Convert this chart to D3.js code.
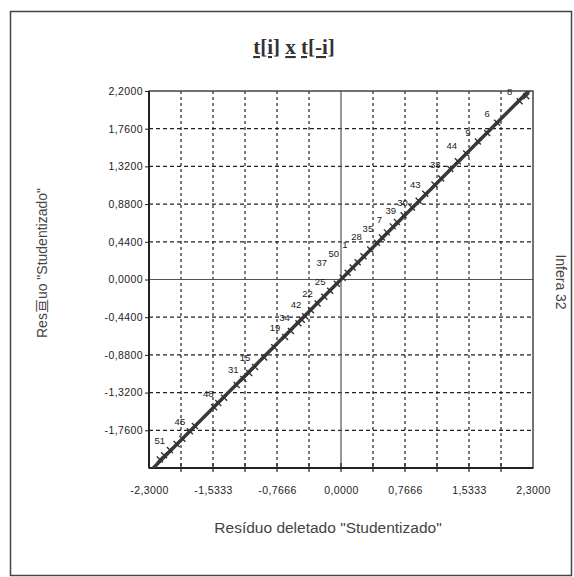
<!DOCTYPE html>
<html><head><meta charset="utf-8">
<script src="https://cdn.jsdelivr.net/npm/d3@7"></script>
<style>body{margin:0;background:#fff}svg{display:block}</style>
</head><body>
<script>
// ---- data ----
const labeledIds = [51,45,48,31,15,19,34,42,22,25,37,50,1,28,35,7,39,30,43,33,44,9,6,8];
const labeledX   = [-2.05,-1.81,-1.47,-1.17,-1.03,-0.67,-0.51,-0.43,-0.28,-0.13,0.08,0.14,0.20,0.35,0.43,0.49,0.62,0.67,1.01,1.31,1.40,1.64,1.87,2.14];
const labeledY   = [-1.99,-1.77,-1.44,-1.16,-1.02,-0.67,-0.51,-0.43,-0.28,-0.13,0.08,0.14,0.20,0.35,0.43,0.49,0.62,0.67,1.00,1.29,1.38,1.61,1.83,2.08];
const otherX = [-2.17,-2.12,-1.97,-1.90,-1.75,-1.52,-1.40,-1.25,-1.10,-0.92,-0.80,-0.60,-0.47,-0.36,-0.20,-0.05,0.02,0.27,0.55,0.75,0.85,0.93,1.12,1.20,1.50,1.75,2.22];
const otherY = [-2.10,-2.05,-1.92,-1.86,-1.71,-1.49,-1.38,-1.23,-1.09,-0.91,-0.79,-0.60,-0.47,-0.36,-0.20,-0.05,0.02,0.27,0.55,0.75,0.84,0.92,1.11,1.18,1.47,1.71,2.14];
const xTickVals = [-2.3,-1.5333,-0.7666,0,0.7666,1.5333,2.3];
const xTickLabels = ["-2,3000","-1,5333","-0,7666","0,0000","0,7666","1,5333","2,3000"];
const xGridVals = [-1.9167,-1.5333,-1.15,-0.7666,-0.3833,0.3833,0.7666,1.15,1.5333,1.9167];
const yTickVals = [2.2,1.76,1.32,0.88,0.44,0,-0.44,-0.88,-1.32,-1.76];
const yTickLabels = ["2,2000","1,7600","1,3200","0,8800","0,4400","0,0000","-0,4400","-0,8800","-1,3200","-1,7600"];
const yGridVals = [1.76,1.32,0.88,0.44,-0.44,-0.88,-1.32,-1.76];
const titleParts = ["t[i]","x","t[-i]"];
const xTitle = "Resíduo deletado \"Studentizado\"";
const yTitle = "Res亘uo \"Studentizado\"";
const sideText = "Infera 32";

// label placement (layout only, px offsets from each point)
const labelOffset = {37:[-26,-7],50:[-19,-10.5],1:[-12.7,-14],28:[-13.7,-9.5],35:[-9,-11],7:[-2.4,-14.5],
  39:[-2,-12],30:[5.5,-16],34:[-14,-2],42:[-9,-8],33:[-15,-1],44:[-6,-12]};

// ---- layout ----
const W = 574, H = 577;
const L = 149, R = 533, T = 91, B = 468;
const svg = d3.select("body").append("svg").attr("width", W).attr("height", H);
const x = d3.scaleLinear().domain([-2.3, 2.3]).range([L, R]);
const y = d3.scaleLinear().domain([-2.2, 2.2]).range([B, T]);

svg.append("rect").attr("x",10.5).attr("y",11.5).attr("width",561).attr("height",564)
  .attr("fill","#fff").attr("stroke","#444").attr("stroke-width",1.5);

// grid
const g = svg.append("g");
g.selectAll(".vg").data(xGridVals).join("line")
  .attr("x1",d=>x(d)).attr("x2",d=>x(d)).attr("y1",T).attr("y2",B)
  .attr("stroke","#222").attr("stroke-width",1.2).attr("stroke-dasharray","3,3");
g.selectAll(".hg").data(yGridVals).join("line")
  .attr("x1",L).attr("x2",R).attr("y1",d=>y(d)).attr("y2",d=>y(d))
  .attr("stroke","#222").attr("stroke-width",1.2).attr("stroke-dasharray","4,3");
g.append("line").attr("x1",x(0)).attr("x2",x(0)).attr("y1",T).attr("y2",B).attr("stroke","#555").attr("stroke-width",1.2);
g.append("line").attr("x1",L).attr("x2",R).attr("y1",y(0)).attr("y2",y(0)).attr("stroke","#555").attr("stroke-width",1.2);

// frame
svg.append("rect").attr("x",L).attr("y",T).attr("width",R-L).attr("height",B-T)
  .attr("fill","none").attr("stroke","#444").attr("stroke-width",1.5);
svg.append("line").attr("x1",L).attr("x2",L).attr("y1",T).attr("y2",B).attr("stroke","#222").attr("stroke-width",2);
svg.append("line").attr("x1",L).attr("x2",R).attr("y1",B).attr("y2",B).attr("stroke","#222").attr("stroke-width",2);

// axes
const xAxis = d3.axisBottom(x).tickValues(xTickVals).tickSize(0).tickFormat((d,i)=>xTickLabels[i]);
const xa = svg.append("g").attr("transform",`translate(0,${B})`).call(xAxis);
xa.select(".domain").remove();
xa.selectAll("text").attr("dy",0).attr("y",26).attr("font-family","Liberation Sans, Arial")
  .attr("font-size",10.5).attr("letter-spacing",0.4).attr("fill","#222");
svg.selectAll(".xt").data(xGridVals.concat([0])).join("line")
  .attr("x1",d=>x(d)).attr("x2",d=>x(d)).attr("y1",B-5).attr("y2",B+4).attr("stroke","#222").attr("stroke-width",1.2);

const yAxis = d3.axisLeft(y).tickValues(yTickVals).tickSize(4).tickFormat((d,i)=>yTickLabels[i]);
const ya = svg.append("g").attr("transform",`translate(${L},0)`).call(yAxis);
ya.select(".domain").remove();
ya.selectAll("line").attr("stroke","#222");
ya.selectAll("text").attr("x",-6).attr("font-family","Liberation Sans, Arial")
  .attr("font-size",10.5).attr("letter-spacing",0.4).attr("fill","#222");

// fit line (least squares through the points)
const allX = labeledX.concat(otherX), allY = labeledY.concat(otherY);
const mx = d3.mean(allX), my = d3.mean(allY);
const slope = d3.sum(allX.map((v,i)=>(v-mx)*(allY[i]-my))) / d3.sum(allX.map(v=>(v-mx)*(v-mx)));
const icpt = my - slope*mx;
svg.append("clipPath").attr("id","clip").append("rect").attr("x",L).attr("y",T).attr("width",R-L).attr("height",B-T);
svg.append("line").attr("clip-path","url(#clip)")
  .attr("x1",x(-2.3)).attr("y1",y(icpt+slope*-2.3)).attr("x2",x(2.3)).attr("y2",y(icpt+slope*2.3))
  .attr("stroke","#3a3a3a").attr("stroke-width",3.5);

// points
const pts = allX.map((v,i)=>({x:v,y:allY[i]}));
const pg = svg.append("g").attr("clip-path","url(#clip)");
pts.forEach(p=>{
  const cx = x(p.x), cy = y(p.y);
  pg.append("path").attr("d",`M${cx-3},${cy-3}L${cx+3},${cy+3}M${cx-3},${cy+3}L${cx+3},${cy-3}`)
    .attr("stroke","#333").attr("stroke-width",1.4);
});
// labels
svg.selectAll(".pl").data(labeledIds).join("text")
  .attr("x",(d,i)=>x(labeledX[i])+(labelOffset[d]?labelOffset[d][0]:-10))
  .attr("y",(d,i)=>y(labeledY[i])+(labelOffset[d]?labelOffset[d][1]:-6))
  .attr("text-anchor","middle").attr("font-family","Liberation Sans, Arial").attr("font-size",9.5).attr("fill","#222")
  .text(d=>d);

// title
const tt = svg.append("text").attr("x",294).attr("y",54).attr("text-anchor","middle")
  .attr("font-family","Liberation Serif, Times New Roman").attr("font-weight","bold").attr("font-size",21).attr("fill","#333");
titleParts.forEach((t,i)=>{
  if(i>0) tt.append("tspan").text(" ");
  tt.append("tspan").attr("text-decoration","underline").text(t);
});

// axis titles
svg.append("text").attr("x",328).attr("y",533).attr("text-anchor","middle")
  .attr("font-family","Liberation Sans, Arial").attr("font-size",15.5).attr("fill","#444").text(xTitle);
svg.append("text").attr("transform","translate(47,263) rotate(-90)").attr("text-anchor","middle")
  .attr("font-family","Liberation Sans, Noto Sans CJK SC, Arial").attr("font-size",14).attr("fill","#444").text(yTitle);
svg.append("text").attr("transform","translate(556,282) rotate(90)").attr("text-anchor","middle")
  .attr("font-family","Liberation Sans, Arial").attr("font-size",14).attr("fill","#444").text(sideText);
</script>
</body></html>
